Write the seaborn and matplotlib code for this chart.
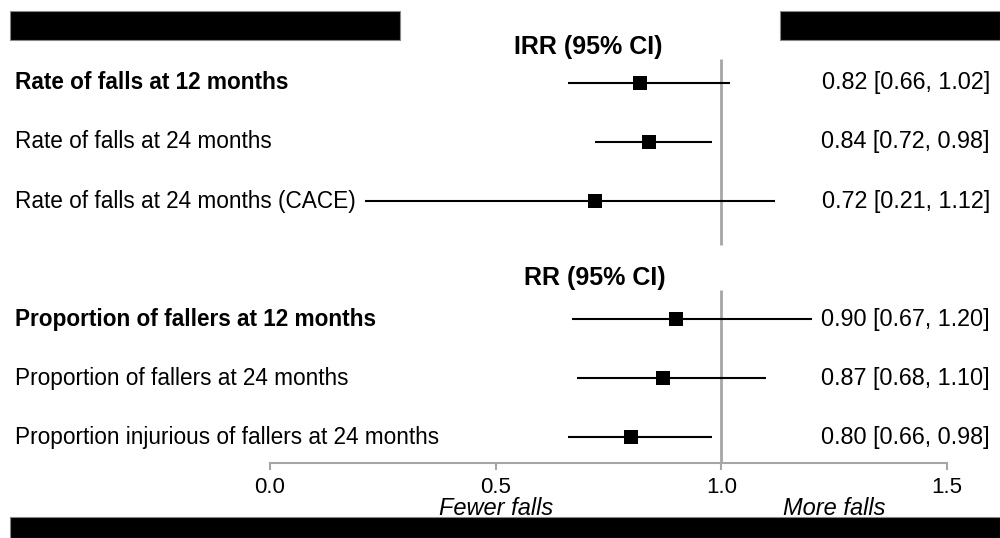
import pandas as pd
import matplotlib.pyplot as plt
import seaborn as sns
from matplotlib.patches import Rectangle

# forest plot values
labels = ["Rate of falls at 12 months", "Rate of falls at 24 months",
          "Rate of falls at 24 months (CACE)",
          "Proportion of fallers at 12 months", "Proportion of fallers at 24 months",
          "Proportion injurious of fallers at 24 months"]
bold = [True, False, False, True, False, False]
est = [0.82, 0.84, 0.72, 0.90, 0.87, 0.80]
lower = [0.66, 0.72, 0.21, 0.67, 0.68, 0.66]
upper = [1.02, 0.98, 1.12, 1.20, 1.10, 0.98]
rows = [0, 1, 2, 4, 5, 6]
headers = ["IRR (95% CI)", "RR (95% CI)"]
xticks = [0.0, 0.5, 1.0, 1.5]

df = pd.DataFrame({"label": labels, "est": est, "lo": lower, "hi": upper, "row": rows})

sns.set_theme(style="white")
plt.rcParams['font.family'] = ['Liberation Sans', 'DejaVu Sans']
plt.rcParams['text.color'] = 'black'
plt.rcParams['xtick.labelcolor'] = 'black'

fig = plt.figure(figsize=(10, 5.38), dpi=100)
ax = fig.add_axes([0.27, 0.1394, 0.677, 0.7863])

# reference line at 1 (split around the header)
ax.vlines(1.0, -0.407, 2.746, color="#a6a6a6", lw=2, zorder=1)
ax.vlines(1.0, 3.508, 6.44, color="#a6a6a6", lw=2, zorder=1)

ax.hlines(df["row"], df["lo"], df["hi"], color="black", lw=1.5, zorder=2)
sns.scatterplot(data=df, x="est", y="row", marker="s", s=100, color="black",
                edgecolor="black", linewidth=0, ax=ax, zorder=3)

ax.set_xlim(0, 1.5)
ax.set_ylim(6.44, -0.729)
ax.set_xticks(xticks)
ax.set_xticklabels([f"{t:.1f}" for t in xticks], fontsize=16)
ax.set_yticks([])
ax.set_xlabel("")
ax.set_ylabel("")
for s in ["top", "left", "right"]:
    ax.spines[s].set_visible(False)
ax.spines["bottom"].set_color("#a6a6a6")
ax.spines["bottom"].set_linewidth(1.5)
ax.tick_params(axis="x", bottom=True, length=5, width=1.5, color="#a6a6a6",
               labelcolor="black", pad=5)

ytr = ax.get_yaxis_transform()
for lab, b, r, e, lo, hi in zip(labels, bold, rows, est, lower, upper):
    ax.text(-0.3767, r, lab, transform=ytr, ha="left", va="center", fontsize=16.3,
            fontweight="bold" if b else "normal", clip_on=False)
    ax.text(1.0635, r, f"{e:.2f} [{lo:.2f}, {hi:.2f}]", transform=ytr, ha="right",
            va="center", fontsize=16.8, clip_on=False)

ax.text(0.706, -0.61, headers[0], ha="center", va="center", fontsize=18, fontweight="bold")
ax.text(0.72, 3.305, headers[1], ha="center", va="center", fontsize=18, fontweight="bold")

xtr = ax.get_xaxis_transform()
ax.text(0.5, -0.108, "Fewer falls", transform=xtr, ha="center", va="center",
        fontsize=17, style="italic", clip_on=False)
ax.text(1.25, -0.108, "More falls", transform=xtr, ha="center", va="center",
        fontsize=17, style="italic", clip_on=False)

# black redaction bars
for x0, y0, w, h in [(0.01, 0.9257, 0.39, 0.0539), (0.78, 0.9257, 0.22, 0.0539),
                     (0.01, 0.0, 0.99, 0.039)]:
    fig.add_artist(Rectangle((x0, y0), w, h, transform=fig.transFigure,
                             facecolor="black", edgecolor="#888888", lw=0.8))

fig.savefig("out.png", dpi=100)
